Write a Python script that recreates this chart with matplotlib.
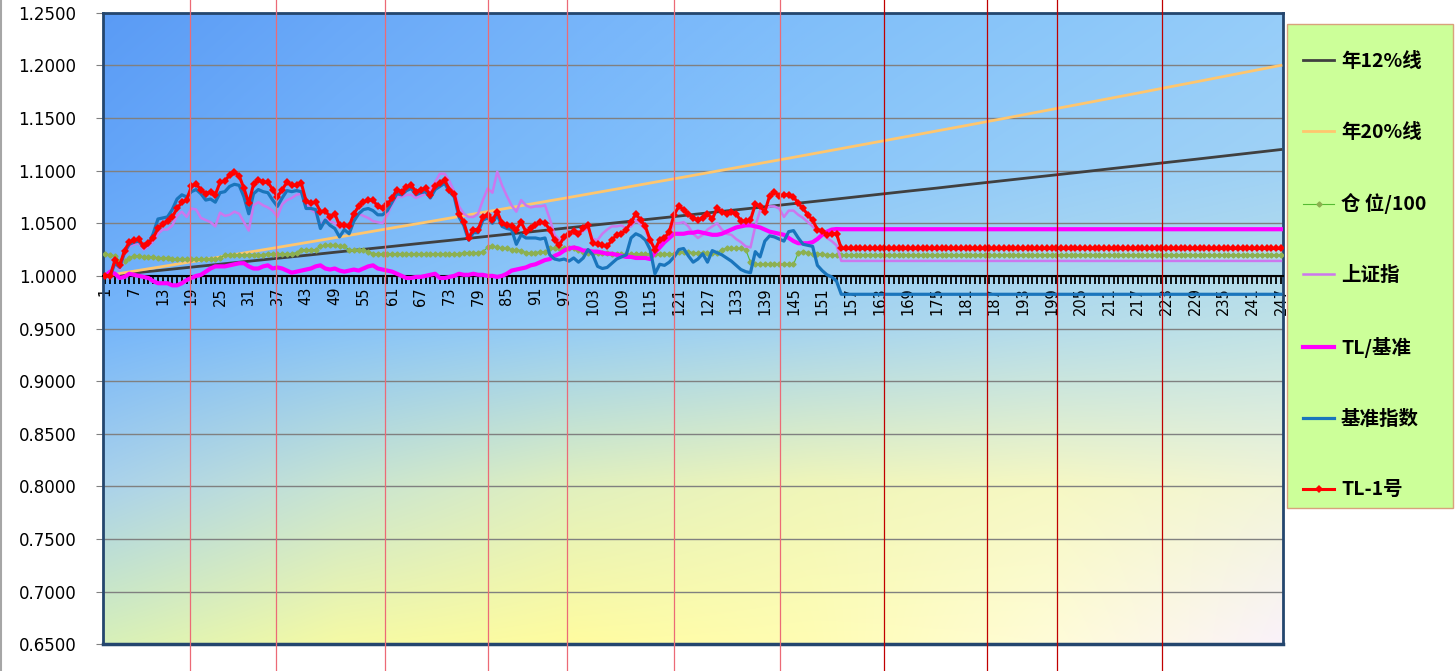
import numpy as np
import matplotlib
matplotlib.use('Agg')
import matplotlib.pyplot as plt
import matplotlib.transforms as mtransforms
from matplotlib.lines import Line2D
from matplotlib.patches import Rectangle
from matplotlib.ticker import FormatStrFormatter
from matplotlib.font_manager import FontProperties

plt.rcParams['font.family'] = ['DejaVu Sans']

# trading days 1..247, real data up to day 155, flat afterwards
n_days = 247
n_tail = 92

# reference lines, read at the labelled days 1, 7, 13, ... 247
ref_days = list(range(1, 248, 6))
line12 = [1.0000, 1.0028, 1.0055, 1.0083, 1.0111, 1.0139, 1.0167, 1.0195, 1.0224, 1.0252,
          1.0280, 1.0309, 1.0337, 1.0366, 1.0395, 1.0423, 1.0452, 1.0481, 1.0510, 1.0539,
          1.0568, 1.0598, 1.0627, 1.0656, 1.0686, 1.0715, 1.0745, 1.0775, 1.0805, 1.0834,
          1.0865, 1.0895, 1.0925, 1.0955, 1.0985, 1.1016, 1.1046, 1.1077, 1.1107, 1.1138,
          1.1169, 1.1200]
line20 = [1.0000, 1.0045, 1.0089, 1.0134, 1.0179, 1.0225, 1.0270, 1.0316, 1.0362, 1.0408,
          1.0455, 1.0501, 1.0548, 1.0595, 1.0642, 1.0690, 1.0737, 1.0785, 1.0833, 1.0882,
          1.0930, 1.0979, 1.1028, 1.1077, 1.1126, 1.1176, 1.1226, 1.1276, 1.1326, 1.1377,
          1.1427, 1.1478, 1.1529, 1.1581, 1.1632, 1.1684, 1.1736, 1.1789, 1.1841, 1.1894,
          1.1947, 1.2000]

position = [1.021, 1.020, 1.019, 1.014, 1.014, 1.017, 1.019, 1.019, 1.018, 1.018,
            1.018, 1.017, 1.017, 1.017, 1.016, 1.016, 1.016, 1.016, 1.016, 1.016,
            1.016, 1.016, 1.016, 1.016, 1.017, 1.020, 1.020, 1.020, 1.020, 1.020,
            1.020, 1.020, 1.020, 1.020, 1.021, 1.021, 1.021, 1.021, 1.021, 1.021,
            1.022, 1.025, 1.025, 1.025, 1.025, 1.028, 1.029, 1.029, 1.029, 1.028,
            1.028, 1.025, 1.025, 1.025, 1.025, 1.023, 1.021, 1.021, 1.021, 1.021,
            1.021, 1.021, 1.021, 1.021, 1.021, 1.021, 1.021, 1.021, 1.021, 1.021,
            1.021, 1.021, 1.021, 1.021, 1.021, 1.022, 1.022, 1.022, 1.022, 1.023,
            1.027, 1.028, 1.027, 1.026, 1.026, 1.025, 1.025, 1.024, 1.022, 1.022,
            1.022, 1.023, 1.023, 1.026, 1.026, 1.026, 1.026, 1.026, 1.026, 1.025,
            1.023, 1.022, 1.022, 1.022, 1.022, 1.022, 1.021, 1.021, 1.021, 1.021,
            1.021, 1.021, 1.021, 1.021, 1.021, 1.021, 1.021, 1.021, 1.021, 1.021,
            1.023, 1.023, 1.023, 1.022, 1.022, 1.022, 1.022, 1.022, 1.022, 1.025,
            1.026, 1.026, 1.026, 1.026, 1.025, 1.013, 1.011, 1.011, 1.011, 1.011,
            1.011, 1.011, 1.011, 1.011, 1.011, 1.022, 1.023, 1.022, 1.021, 1.021,
            1.021, 1.020, 1.020, 1.020, 1.020] + [1.020] * n_tail

shanghai = [1.000, 1.000, 1.010, 1.006, 1.020, 1.028, 1.030, 1.031, 1.025, 1.028,
            1.033, 1.040, 1.044, 1.044, 1.048, 1.057, 1.061, 1.056, 1.064, 1.063,
            1.055, 1.053, 1.051, 1.047, 1.060, 1.057, 1.058, 1.061, 1.059, 1.051,
            1.043, 1.067, 1.070, 1.067, 1.065, 1.062, 1.056, 1.068, 1.072, 1.074,
            1.077, 1.078, 1.068, 1.063, 1.060, 1.047, 1.054, 1.052, 1.050, 1.046,
            1.047, 1.049, 1.056, 1.059, 1.057, 1.055, 1.052, 1.051, 1.050, 1.058,
            1.068, 1.075, 1.075, 1.077, 1.077, 1.074, 1.076, 1.078, 1.082, 1.089,
            1.097, 1.097, 1.090, 1.080, 1.066, 1.059, 1.056, 1.056, 1.059, 1.072,
            1.083, 1.079, 1.099, 1.086, 1.076, 1.067, 1.061, 1.072, 1.067, 1.065,
            1.066, 1.066, 1.067, 1.054, 1.039, 1.034, 1.036, 1.039, 1.041, 1.038,
            1.043, 1.045, 1.035, 1.034, 1.040, 1.044, 1.047, 1.047, 1.048, 1.045,
            1.047, 1.053, 1.049, 1.044, 1.032, 1.026, 1.032, 1.034, 1.040, 1.050,
            1.050, 1.051, 1.047, 1.040, 1.036, 1.039, 1.044, 1.047, 1.050, 1.044,
            1.040, 1.039, 1.035, 1.032, 1.028, 1.027, 1.047, 1.062, 1.063, 1.066,
            1.066, 1.064, 1.056, 1.062, 1.062, 1.058, 1.055, 1.051, 1.047, 1.043,
            1.040, 1.036, 1.033, 1.029, 1.0142] + [1.0142] * n_tail

tl_vs_bench = [1.000, 1.004, 1.002, 0.998, 0.999, 1.002, 1.001, 1.000, 0.999, 0.998,
               0.995, 0.993, 0.993, 0.993, 0.991, 0.991, 0.993, 0.996, 0.998, 1.000,
               1.001, 1.004, 1.007, 1.009, 1.009, 1.009, 1.010, 1.011, 1.012, 1.012,
               1.009, 1.007, 1.007, 1.009, 1.010, 1.007, 1.008, 1.007, 1.005, 1.003,
               1.004, 1.005, 1.006, 1.007, 1.009, 1.010, 1.007, 1.006, 1.007, 1.005,
               1.004, 1.005, 1.006, 1.005, 1.007, 1.009, 1.010, 1.007, 1.006, 1.005,
               1.004, 1.002, 1.000, 0.998, 0.998, 0.999, 0.999, 1.000, 1.001, 1.002,
               0.998, 0.998, 0.999, 1.000, 1.002, 1.001, 1.001, 1.002, 1.001, 1.001,
               1.000, 1.000, 0.999, 1.000, 1.002, 1.005, 1.006, 1.007, 1.008, 1.010,
               1.011, 1.013, 1.015, 1.016, 1.019, 1.021, 1.024, 1.026, 1.027, 1.026,
               1.024, 1.024, 1.023, 1.023, 1.022, 1.021, 1.021, 1.020, 1.019, 1.018,
               1.018, 1.017, 1.017, 1.017, 1.016, 1.022, 1.027, 1.032, 1.036, 1.040,
               1.040, 1.040, 1.041, 1.041, 1.042, 1.041, 1.040, 1.039, 1.039, 1.040,
               1.042, 1.044, 1.046, 1.047, 1.048, 1.048, 1.047, 1.046, 1.044, 1.042,
               1.041, 1.040, 1.039, 1.036, 1.033, 1.031, 1.031, 1.031, 1.032, 1.035,
               1.039, 1.042, 1.044, 1.0445, 1.0443] + [1.0443] * n_tail

benchmark = [1.000, 1.000, 1.012, 1.008, 1.022, 1.030, 1.032, 1.033, 1.027, 1.030,
             1.040, 1.054, 1.055, 1.056, 1.063, 1.073, 1.077, 1.075, 1.080, 1.082,
             1.078, 1.072, 1.073, 1.070, 1.079, 1.080, 1.085, 1.087, 1.086, 1.075,
             1.059, 1.078, 1.082, 1.080, 1.079, 1.072, 1.066, 1.074, 1.081, 1.080,
             1.081, 1.080, 1.064, 1.064, 1.063, 1.045, 1.053, 1.048, 1.045, 1.037,
             1.044, 1.040, 1.052, 1.059, 1.063, 1.064, 1.062, 1.058, 1.058, 1.062,
             1.070, 1.078, 1.077, 1.081, 1.083, 1.077, 1.079, 1.080, 1.074, 1.082,
             1.085, 1.088, 1.080, 1.075, 1.056, 1.048, 1.034, 1.041, 1.041, 1.053,
             1.055, 1.050, 1.058, 1.047, 1.045, 1.044, 1.030, 1.039, 1.036, 1.036,
             1.036, 1.035, 1.036, 1.020, 1.016, 1.015, 1.016, 1.014, 1.017, 1.013,
             1.017, 1.025, 1.020, 1.009, 1.007, 1.008, 1.012, 1.016, 1.018, 1.020,
             1.036, 1.040, 1.038, 1.034, 1.025, 1.002, 1.011, 1.010, 1.013, 1.018,
             1.025, 1.026, 1.019, 1.013, 1.016, 1.021, 1.013, 1.024, 1.022, 1.020,
             1.017, 1.014, 1.010, 1.006, 1.004, 1.003, 1.023, 1.018, 1.033, 1.038,
             1.037, 1.035, 1.033, 1.042, 1.043, 1.036, 1.030, 1.029, 1.028, 1.010,
             1.005, 1.001, 0.999, 0.995, 0.9825] + [0.9825] * n_tail

tl1 = [1.000, 1.000, 1.015, 1.010, 1.024, 1.032, 1.034, 1.035, 1.028, 1.031,
       1.036, 1.045, 1.049, 1.052, 1.056, 1.064, 1.070, 1.072, 1.085, 1.087,
       1.082, 1.078, 1.080, 1.077, 1.089, 1.090, 1.096, 1.099, 1.095, 1.083,
       1.069, 1.087, 1.091, 1.089, 1.089, 1.082, 1.075, 1.082, 1.089, 1.086,
       1.086, 1.088, 1.071, 1.069, 1.070, 1.061, 1.062, 1.056, 1.059, 1.048,
       1.048, 1.047, 1.059, 1.066, 1.070, 1.072, 1.072, 1.066, 1.064, 1.068,
       1.074, 1.082, 1.080, 1.084, 1.086, 1.080, 1.082, 1.083, 1.077, 1.085,
       1.088, 1.091, 1.082, 1.078, 1.059, 1.051, 1.036, 1.044, 1.044, 1.056,
       1.058, 1.053, 1.061, 1.050, 1.048, 1.047, 1.044, 1.051, 1.042, 1.045,
       1.048, 1.051, 1.050, 1.044, 1.034, 1.029, 1.037, 1.040, 1.043, 1.040,
       1.045, 1.048, 1.031, 1.030, 1.029, 1.028, 1.034, 1.039, 1.040, 1.044,
       1.051, 1.059, 1.053, 1.047, 1.034, 1.025, 1.034, 1.036, 1.042, 1.058,
       1.066, 1.063, 1.059, 1.055, 1.053, 1.055, 1.059, 1.054, 1.064, 1.061,
       1.059, 1.061, 1.059, 1.052, 1.052, 1.053, 1.068, 1.066, 1.061, 1.076,
       1.080, 1.076, 1.077, 1.077, 1.075, 1.069, 1.064, 1.058, 1.053, 1.044,
       1.043, 1.039, 1.040, 1.040, 1.026] + [1.026] * n_tail

# days where vertical marker lines were drawn on the chart
mark_days = [18.8, 36.7, 59.5, 81.0, 97.7, 120.0, 142.1, 163.9, 185.5, 200.1, 222.1]

labels = ['年12%线', '年20%线', '仓 位/100', '上证指', 'TL/基准', '基准指数', 'TL-1号']

days = np.arange(1, n_days + 1)
for s in (position, shanghai, tl_vs_bench, benchmark, tl1):
    assert len(s) == n_days

W, H = 1456, 671
fig = plt.figure(figsize=(W / 100, H / 100), dpi=100)
ax = fig.add_axes([103 / W, (H - 644.3) / H, 1180.3 / W, 631.6 / H])

# gradient fill of the plot area (top-left blue -> bottom-right pale pink)
bg_rows = np.array([
    [(90, 155, 245), (105, 168, 248), (118, 180, 250), (128, 190, 250), (138, 198, 250), (150, 205, 250)],
    [(100, 165, 248), (115, 178, 250), (125, 188, 250), (138, 198, 250), (150, 205, 248), (160, 210, 245)],
    [(118, 182, 250), (135, 195, 248), (150, 205, 245), (165, 212, 240), (180, 220, 235), (192, 226, 230)],
    [(170, 210, 235), (200, 228, 210), (225, 240, 190), (240, 246, 185), (246, 248, 195), (242, 245, 215)],
    [(215, 240, 185), (245, 250, 165), (255, 252, 160), (255, 253, 180), (255, 252, 215), (250, 242, 250)],
], dtype=float) / 255
cx = np.linspace(0, 1, bg_rows.shape[1])
cy = np.linspace(0, 1, bg_rows.shape[0])
gx = np.linspace(0, 1, 400)
gy = np.linspace(0, 1, 200)
tmp = np.stack([np.stack([np.interp(gx, cx, bg_rows[r, :, c]) for c in range(3)], -1)
                for r in range(bg_rows.shape[0])])
bg = np.stack([np.stack([np.interp(gy, cy, tmp[:, j, c]) for c in range(3)], -1)
               for j in range(len(gx))], 1)
ax.imshow(bg, extent=[0, 1, 0, 1], transform=ax.transAxes, aspect='auto',
          interpolation='bilinear', zorder=0)

ax.plot(ref_days, line12, color='#404040', lw=2.0, label=labels[0], zorder=3)
ax.plot(ref_days, line20, color='#ffc66e', lw=2.0, label=labels[1], zorder=3)
ax.plot(days, position, color='#55bb33', lw=0.8, marker='D', ms=2.6,
        mfc='#8db050', mec='#8db050', label=labels[2], zorder=3)
ax.plot(days, shanghai, color='#cc77ee', lw=1.8, label=labels[3], zorder=3)
ax.plot(days, tl_vs_bench, color='#ff00ff', lw=3.0, label=labels[4], zorder=3)
ax.plot(days, benchmark, color='#1a75bc', lw=2.3, label=labels[5], zorder=3)
ax.plot(days, tl1, color='#ff0000', lw=2.2, marker='D', ms=4.5, mew=0,
        label=labels[6], zorder=3)

ax.set_xlim(0.5, n_days + 0.5)
ax.set_ylim(0.65, 1.25)
ax.set_yticks(np.arange(0.65, 1.2501, 0.05))
ax.yaxis.set_major_formatter(FormatStrFormatter('%.4f'))
ax.set_xticks(ref_days)
ax.set_xticks(days, minor=True)
ax.set_xticklabels([str(d) for d in ref_days])

ax.yaxis.grid(True, color='#808080', lw=1)
ax.set_axisbelow(True)

ax.tick_params(axis='y', direction='out', length=5, color='#808080',
               labelsize=12, pad=14)
ax.tick_params(axis='x', which='both', direction='out', length=6, width=1.3,
               color='black', labelsize=10.5, labelrotation=90, pad=2)

navy = '#24466e'
for side in ('left', 'right', 'top'):
    ax.spines[side].set_color(navy)
    ax.spines[side].set_linewidth(2)
ax.spines['bottom'].set_position(('data', 1.0))
ax.spines['bottom'].set_color('black')
ax.spines['bottom'].set_linewidth(1.5)
ax.plot([0, 1], [0, 0], transform=ax.transAxes, color=navy, lw=2.5, clip_on=False, zorder=4)

# vertical marker lines run over the whole chart
blend = mtransforms.blended_transform_factory(ax.transData, fig.transFigure)
for k, d in enumerate(mark_days):
    col = '#ec6a76' if k < 7 else '#c00000'
    fig.add_artist(Line2D([d, d], [0, 1], transform=blend, color=col, lw=0.9, zorder=5))

# chart border on the left
fig.add_artist(Line2D([0.001, 0.001], [0, 1], transform=fig.transFigure, color='#a6a6a6', lw=1.5))

# legend box
fig.add_artist(Rectangle((1287 / W, 1 - 508 / H), 166 / W, 484 / H, transform=fig.transFigure,
                         facecolor='#ccff99', edgecolor='#d8a27c', lw=1, zorder=1))
leg_font = FontProperties(family=['Noto Sans CJK SC', 'DejaVu Sans'], weight='bold', size=14)
handles, labs = ax.get_legend_handles_labels()
leg = fig.legend(handles, labs, loc='upper left', bbox_to_anchor=(1303 / W, 1 - 52 / H),
                 frameon=False, borderpad=0, borderaxespad=0,
                 handlelength=1.6, handletextpad=0.35, labelspacing=2.66, prop=leg_font)
leg.set_zorder(6)

fig.savefig('out.png', dpi=100)
